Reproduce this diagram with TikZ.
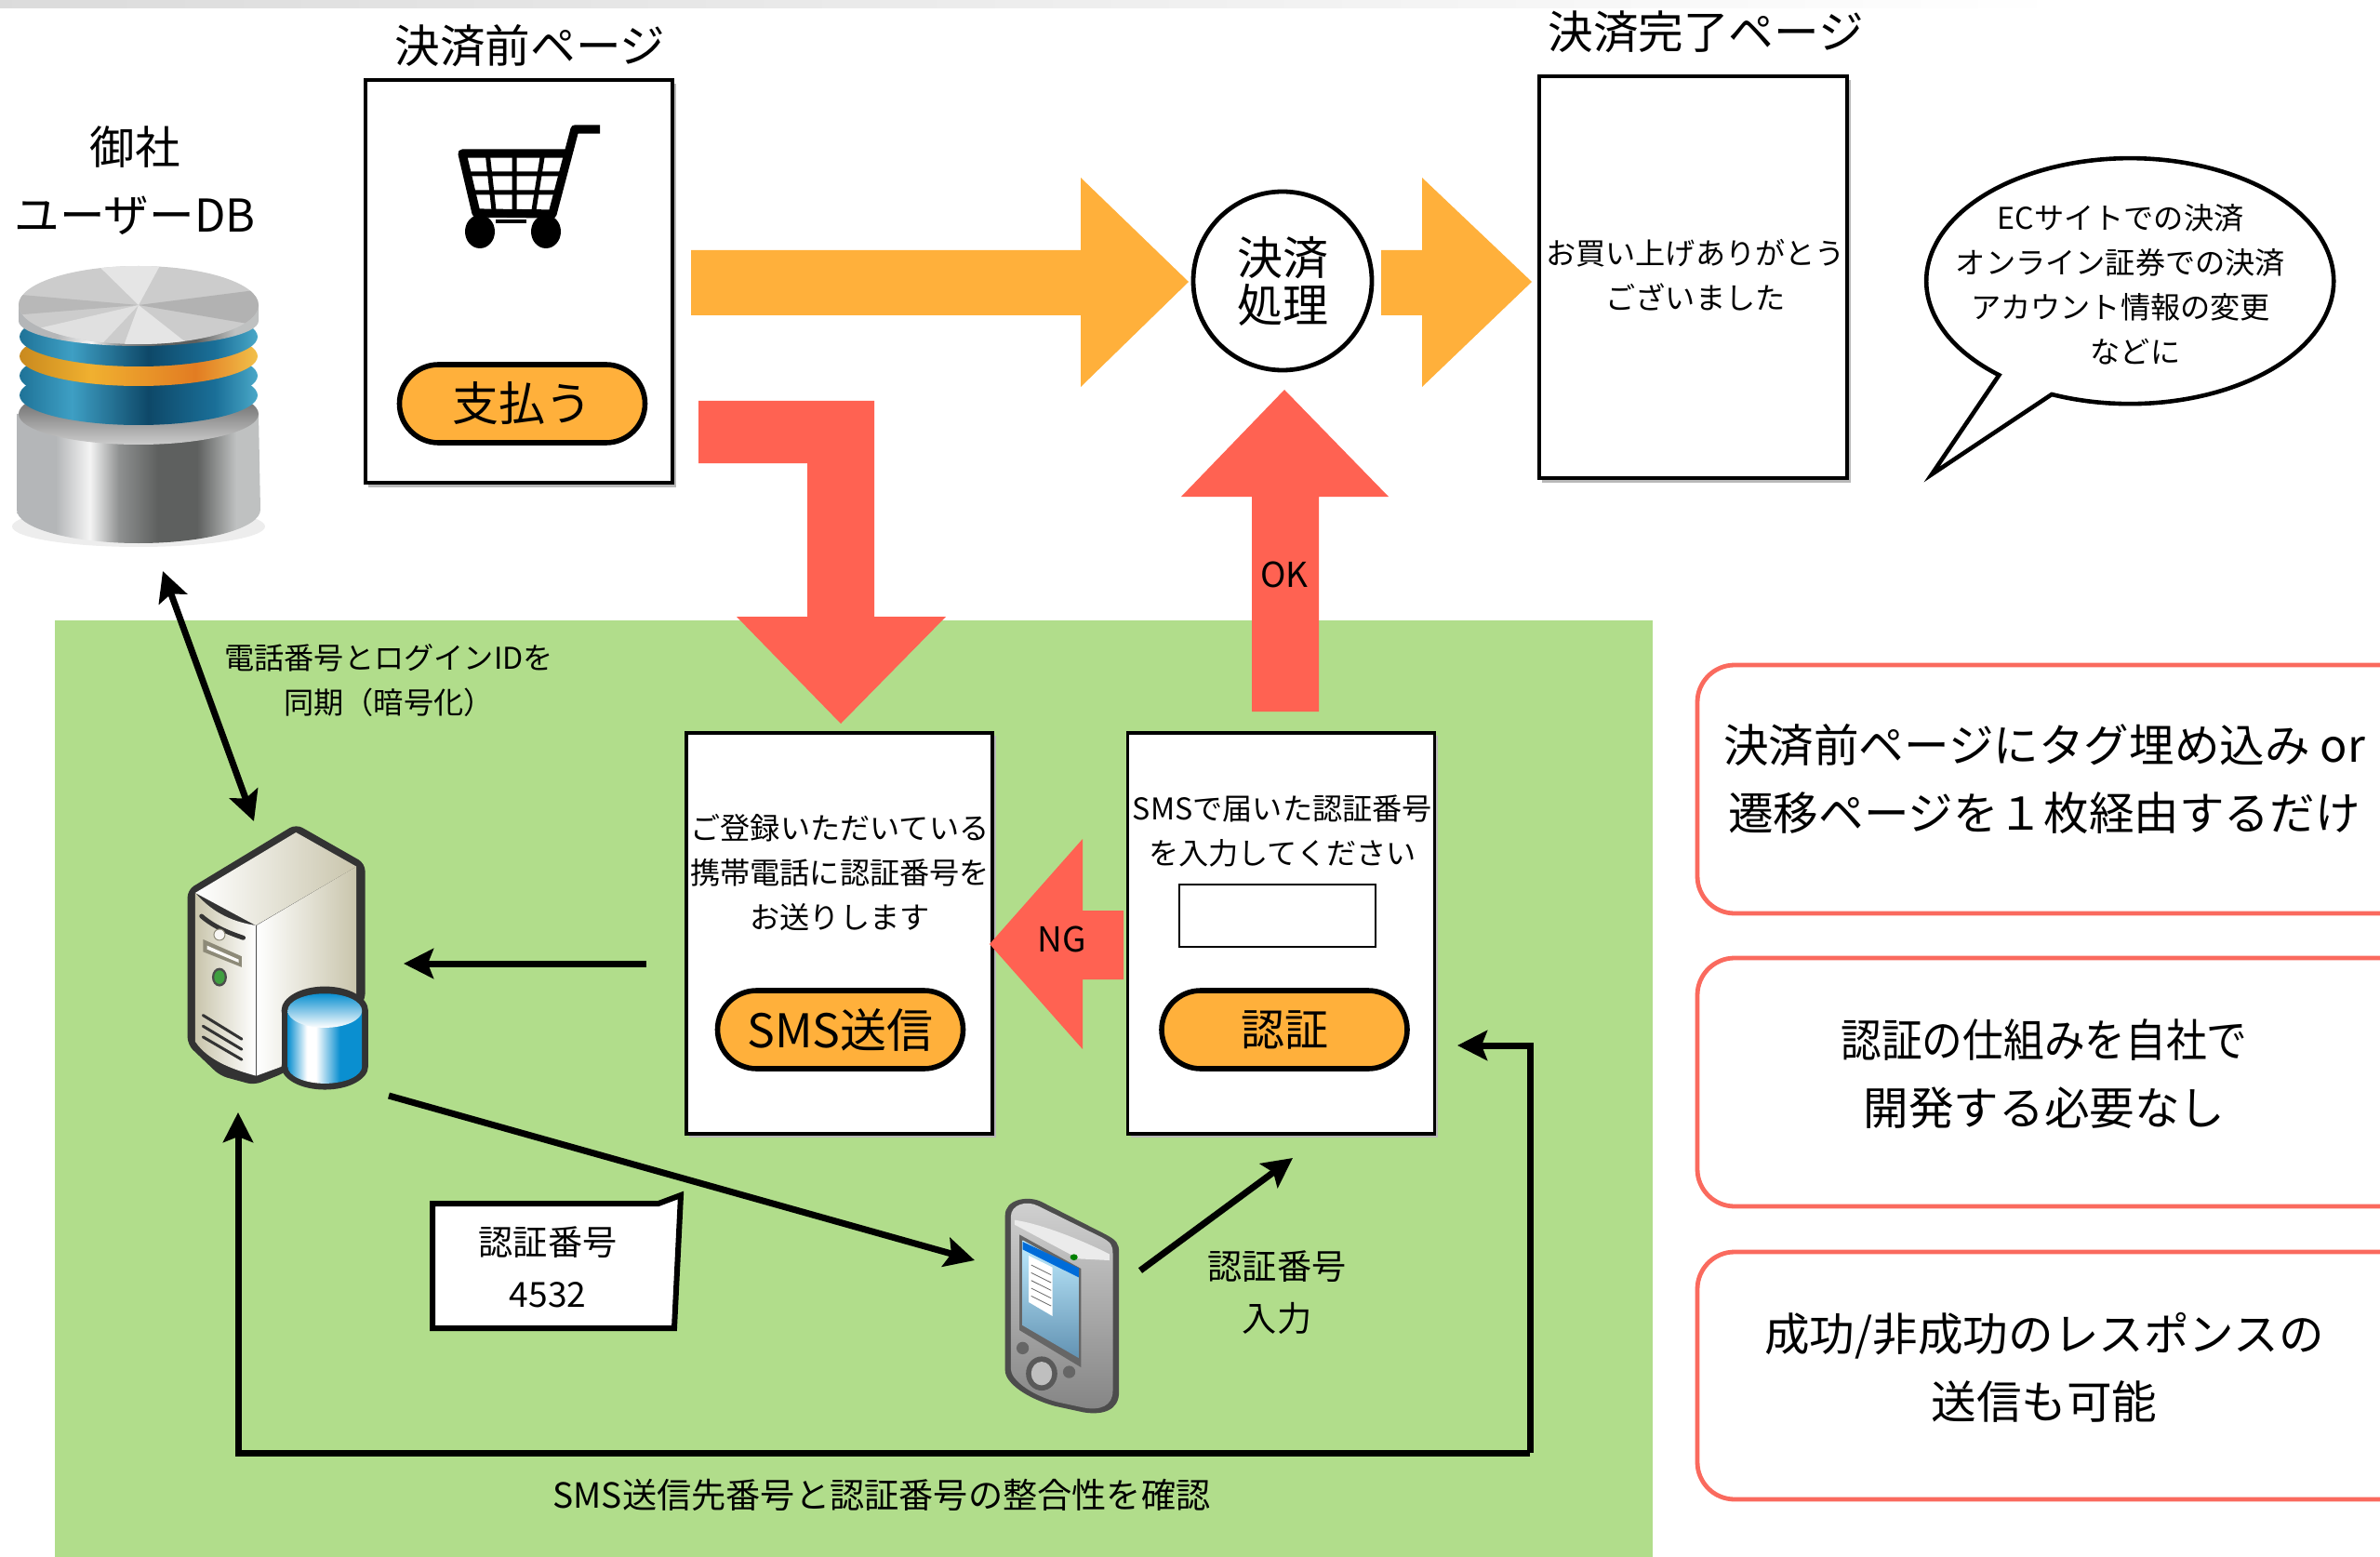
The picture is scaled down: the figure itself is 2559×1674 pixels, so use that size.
\documentclass[tikz,border=0pt]{standalone}
\usepackage{fontspec}
\setmainfont{Noto Sans CJK JP}
\usetikzlibrary{arrows.meta,calc}
\definecolor{orng}{HTML}{FFB03B}
\definecolor{redd}{HTML}{FF6252}
\definecolor{grn}{HTML}{B1DD8B}
\definecolor{pnl}{HTML}{FA6A5E}
\definecolor{cylb}{HTML}{0A8FD0}
\definecolor{srvd}{HTML}{333333}
\definecolor{srvl}{HTML}{C9C5AC}
\definecolor{mA}{HTML}{B4B6B8}
\definecolor{mB}{HTML}{F4F4F4}
\definecolor{mC}{HTML}{8E9090}
\definecolor{mD}{HTML}{5E605F}
\definecolor{mE}{HTML}{BFC1C1}
\definecolor{dA}{HTML}{1F7398}
\definecolor{dB}{HTML}{3E9FC4}
\definecolor{dC}{HTML}{0E4868}
\definecolor{dD}{HTML}{1A6F98}
\definecolor{dE}{HTML}{4AA8C8}
\definecolor{oA}{HTML}{C98A1E}
\definecolor{oB}{HTML}{F0B030}
\definecolor{oC}{HTML}{E27C22}
\definecolor{oD}{HTML}{F2C04A}
\pgfdeclarehorizontalshading{metal}{100bp}{color(0bp)=(mA);color(25bp)=(mA);color(33bp)=(mA);color(40bp)=(mB);color(46bp)=(mC);color(54bp)=(mD);color(62bp)=(mD);color(70bp)=(mE);color(75bp)=(mE);color(100bp)=(mE)}
\pgfdeclarehorizontalshading{bluedisc}{100bp}{color(0bp)=(dA);color(25bp)=(dA);color(36bp)=(dB);color(52bp)=(dC);color(66bp)=(dD);color(75bp)=(dE);color(100bp)=(dE)}
\pgfdeclarehorizontalshading{orgdisc}{100bp}{color(0bp)=(oA);color(25bp)=(oA);color(40bp)=(oB);color(62bp)=(oC);color(75bp)=(oD);color(100bp)=(oD)}
\pgfdeclarehorizontalshading{cylblue}{100bp}{color(0bp)=(cylb);color(25bp)=(cylb);color(38bp)=(white);color(44bp)=(white);color(60bp)=(cylb);color(75bp)=(cylb);color(100bp)=(cylb)}
\tikzset{
  x=0.5pt,y=-0.5pt,
  pagebox/.style={draw=black,line width=1.6pt,fill=white,inner sep=0pt},
  shadowbox/.style={fill=black!28},
  paybtn/.style={draw=black,line width=2.8pt,fill=orng,rounded corners=21pt,inner sep=0pt,minimum height=42pt,minimum width=132pt},
  panel/.style={draw=pnl,line width=2.4pt,fill=white,rounded corners=20pt},
  txt/.style={inner sep=0pt,align=center,text=black},
  ts/.style={txt,font=\fontsize{16.1}{24}\selectfont},
  tk/.style={txt,font=\fontsize{18.5}{24}\selectfont},
  tm/.style={txt,font=\fontsize{18.6}{28}\selectfont},
  tl/.style={txt,font=\fontsize{24.3}{36.5}\selectfont},
  conn/.style={draw=black,line width=3.5pt},
  tip/.style={-{Stealth[length=16pt,width=16pt,inset=3pt]}},
  bothtip/.style={{Stealth[length=16pt,width=16pt,inset=3pt]}-{Stealth[length=16pt,width=16pt,inset=3pt]}},
  orarrow/.style={fill=orng},
  rdarrow/.style={fill=redd},
}
\begin{document}
\begin{tikzpicture}
\useasboundingbox (0,0) rectangle (2559,1674);
\clip (0,0) rectangle (2559,1674);
\shade[left color=black!14,right color=white] (0,0) rectangle (2220,9);
\fill[grn] (59,667) rectangle (1777,1680);

% ---- database icon
\begin{scope}
\fill[black!7] (149,566) ellipse [x radius=136,y radius=22];
\shade[shading=metal] (18,445) -- (18,548) arc [start angle=180,end angle=360,x radius=131,y radius=-36] -- (278,445) -- cycle;
\begin{scope}
\clip (18,425) rectangle (280,500);
\shade[top color=black!70,bottom color=black!20] (149,445) ellipse [x radius=129,y radius=33];
\end{scope}
\shade[shading=bluedisc] (149,425) ellipse [x radius=128,y radius=32];
\shade[shading=bluedisc] (149,404) ellipse [x radius=128,y radius=32];
\shade[shading=orgdisc] (149,383) ellipse [x radius=128,y radius=32];
\shade[shading=bluedisc] (149,362) ellipse [x radius=128,y radius=32];
\shade[shading=metal] (20,328) -- (20,345) arc [start angle=180,end angle=360,x radius=129,y radius=-27] -- (278,328) -- cycle;
\fill[black!20] (149,328) ellipse [x radius=129,y radius=42];
\begin{scope}
\clip (149,328) ellipse [x radius=129,y radius=42];
\fill[black!30] (149,328) -- (290,352) -- (290,310) -- cycle;
\fill[black!10] (149,328) -- (100,280) -- (175,280) -- cycle;
\fill[black!10] (149,328) -- (130,380) -- (215,380) -- cycle;
\fill[black!28] (149,328) -- (0,315) -- (0,340) -- cycle;
\fill[black!12] (149,328) -- (20,358) -- (100,380) -- cycle;
\end{scope}
\end{scope}
\node[tl] (dbtitle) at (145,194) {御社\\ユーザーDB};
\node[tl] (p1title) at (570,49) {決済前ページ};
\node[tl] (p2title) at (1834,34) {決済完了ページ};

% ---- page 1
\fill[shadowbox] (396,90) rectangle (727,524);
\node[pagebox,minimum width=165pt,minimum height=216.5pt] (page1) at (558,302.5) {};
\begin{scope}
\draw[line width=2.5pt] (501,187) -- (603,187) (507,207) -- (599,207)
  (524,163) -- (531,226) (553,163) -- (553,226) (584,163) -- (574,226);
\draw[line width=4.6pt,line join=round] (645,139) -- (618,139) -- (594,230) -- (512,229) -- (497,165) -- (610,165);
\fill (516,249) ellipse [x radius=16,y radius=18];
\fill (587,249) ellipse [x radius=16,y radius=18];
\draw[line width=2.2pt] (533,238) -- (566,238);
\end{scope}
\node[paybtn] (pay) at (561.5,434) {\fontsize{25}{26}\selectfont 支払う};

% ---- block arrows
\fill[orarrow] (743,269) -- (1162,269) -- (1162,191) -- (1278,303) -- (1162,416) -- (1162,339) -- (743,339) -- cycle;
\fill[orarrow] (1485,269) -- (1529,269) -- (1529,191) -- (1647,303) -- (1529,416) -- (1529,339) -- (1485,339) -- cycle;
\fill[rdarrow] (751,431) -- (940,431) -- (940,663) -- (1017,663) -- (904,778) -- (792,663) -- (868,663) -- (868,498) -- (751,498) -- cycle;
\fill[rdarrow] (1346,765) -- (1346,534) -- (1270,534) -- (1381,419) -- (1493,534) -- (1418,534) -- (1418,765) -- cycle;

% ---- settlement
\node[draw=black,line width=2.4pt,fill=white,circle,minimum size=96pt,inner sep=0pt,align=center,font=\fontsize{24.5}{25.5}\selectfont] (proc) at (1379,302) {決済\\処理};

% ---- page 2
\fill[shadowbox] (1658,86) rectangle (1990,519);
\node[pagebox,minimum width=165.5pt,minimum height=216pt] (page2) at (1820.5,298) {};
\node[ts] (thanks) at (1823,296) {お買い上げありがとう\\ございました};

% ---- bubble
\draw[draw=black,line width=2.3pt,fill=white,line join=miter] (2206,424)
  arc [start angle=112.6,end angle=-230,x radius=219,y radius=132]
  -- (2077,510) -- cycle;
\node[ts] (bubtext) at (2280,306) {ECサイトでの決済\\オンライン証券での決済\\アカウント情報の変更\\\hspace*{16pt}などに};

% ---- right panels
\draw[panel] (1825,715) rectangle (2620,982);
\draw[panel] (1825,1030) rectangle (2620,1297);
\draw[panel] (1825,1346) rectangle (2620,1612);
\node[tl] (merit1) at (2198,838) {決済前ページにタグ埋め込み or\\遷移ページを１枚経由するだけ};
\node[tl] (merit2) at (2198,1155) {\scalebox{0.9}[1]{認証の仕組みを自社で}\\開発する必要なし};
\node[tl] (merit3) at (2198,1470) {成功/非成功のレスポンスの\\送信も可能};

% ---- page 3
\fill[shadowbox] (741,791) rectangle (1071,1223);
\node[pagebox,minimum width=164.5pt,minimum height=215.5pt] (page3) at (902.5,1003.5) {};
\node[ts] (sendtext) at (903,938) {ご登録いただいている\\携帯電話に認証番号を\\お送りします};
\node[paybtn] (smsbtn) at (903.5,1107) {\fontsize{25}{26}\selectfont SMS送信};

% ---- page 4
\fill[shadowbox] (1216,791) rectangle (1546,1223);
\node[pagebox,minimum width=165pt,minimum height=215.5pt] (page4) at (1377.5,1003.5) {};
\node[ts] (inputtext) at (1379,894) {SMSで届いた認証番号\\を入力してください};
\node[draw=black,line width=0.9pt,fill=white,minimum width=105.5pt,minimum height=33.5pt,inner sep=0pt] (inputbox) at (1373.5,984.5) {};
\node[paybtn] (authbtn) at (1381,1107) {\fontsize{23.5}{26}\selectfont 認証};

% ---- NG arrow and OK label
\fill[rdarrow] (1208,979) -- (1164,979) -- (1164,902) -- (1064,1015) -- (1164,1128) -- (1164,1053) -- (1208,1053) -- cycle;
\node[tk] (nglab) at (1142,1010) {NG};
\node[tk] (oklab) at (1381,618) {OK};

% ---- server icon
\node[inner sep=0pt,minimum width=98pt,minimum height=143pt] (server) at (298.5,1029) {};
\begin{scope}[shift={(150,860)},x=0.1666pt,y=-0.1666pt]
\fill[srvd,rounded corners=4pt] (155,290) -- (505,78) -- (728,205) -- (728,650) -- (470,880) -- (370,920) -- (260,890) -- (155,790) -- cycle;
\shade[left color=white,right color=srvl] (180,300) -- (505,105) -- (700,215) -- (375,405) -- cycle;
\shade[left color=srvl,right color=white] (180,300) .. controls (240,370) and (310,395) .. (375,405) -- (375,890) .. controls (300,870) and (220,840) .. (180,780) -- cycle;
\shade[left color=white,right color=srvl] (378,405) -- (700,215) -- (700,640) -- (460,860) -- (378,890) -- cycle;
\draw[srvd,line width=2.4pt,line cap=round] (200,375) .. controls (240,410) and (290,430) .. (335,445);
\draw[fill=white!85!srvl,draw=srvl!70!black,line width=0.5pt] (258,435) circle [radius=18];
\fill[srvl!70!black] (205,450) -- (330,505) -- (330,540) -- (205,490) -- cycle;
\fill[white!90!srvl] (218,470) -- (320,515) -- (320,525) -- (218,482) -- cycle;
\fill[black!70] (258,572) ellipse [x radius=24,y radius=30];
\fill[green!50!black!75] (258,572) ellipse [x radius=17,y radius=22];
\draw[srvd,line width=1.5pt,line cap=round] (205,695) -- (330,772) (205,730) -- (330,805) (205,765) -- (330,838);
\fill[srvd] (598,680) ellipse [x radius=140,y radius=78];
\fill[srvd] (458,680) rectangle (738,860);
\fill[srvd] (598,860) ellipse [x radius=140,y radius=75];
\shade[shading=cylblue] (478,680) -- (478,860) arc [start angle=180,end angle=360,x radius=120,y radius=-55] -- (718,680) -- cycle;
\shade[top color=cylb,bottom color=white] (598,680) ellipse [x radius=120,y radius=55];
\end{scope}

% ---- phone icon
\node[inner sep=0pt,minimum width=61pt,minimum height=115pt] (phone) at (1141,1404) {};
\begin{scope}[shift={(420,1240)},x=0.2551pt,y=-0.1667pt]
\fill[black!70] (1295,200) .. controls (1295,150) and (1340,135) .. (1370,155) -- (1505,260) .. controls (1530,280) and (1535,290) .. (1535,320) -- (1535,770) .. controls (1535,830) and (1500,845) .. (1460,835) -- (1400,815) .. controls (1340,790) and (1295,740) .. (1295,700) -- cycle;
\shade[top color=black!18,bottom color=black!48] (1307,205) .. controls (1307,165) and (1340,150) .. (1365,170) -- (1500,272) .. controls (1518,288) and (1522,295) .. (1522,325) -- (1522,765) .. controls (1522,815) and (1495,830) .. (1460,820) -- (1405,802) .. controls (1350,780) and (1307,730) .. (1307,695) -- cycle;
\fill[black!8] (1315,215) .. controls (1380,230) and (1470,290) .. (1515,325) -- (1515,345) -- (1450,340) -- (1315,230) -- cycle;
\fill[black!60] (1325,262) -- (1455,372) -- (1455,690) -- (1325,570) -- cycle;
\shade[top color=blue!30!cyan!25!white,bottom color=blue!40!cyan!45!white!70!black] (1332,280) -- (1450,380) -- (1450,660) -- (1332,555) -- cycle;
\fill[blue!50!cyan!85!black] (1332,285) -- (1450,370) -- (1450,400) -- (1332,310) -- cycle;
\fill[white] (1345,330) -- (1395,368) -- (1395,525) -- (1345,480) -- cycle;
\draw[black!60,line width=0.4pt] (1350,360) -- (1392,392) (1350,385) -- (1392,417) (1350,410) -- (1392,442) (1350,435) -- (1392,467) (1350,460) -- (1392,492);
\fill[green!50!black] (1440,335) ellipse [x radius=8,y radius=10];
\fill[black!65] (1372,710) ellipse [x radius=33,y radius=55];
\fill[black!25] (1372,710) ellipse [x radius=22,y radius=38];
\fill[black!60] (1332,628) ellipse [x radius=13,y radius=20];
\fill[black!60] (1430,705) ellipse [x radius=13,y radius=20];
\end{scope}

% ---- callout
\draw[draw=black,line width=3pt,fill=white,line join=miter] (465,1294) -- (708,1294) -- (732,1285) -- (725,1428) -- (465,1428) -- cycle;
\node[tm] (codetext) at (589,1362) {認証番号\\4532};
\node[tm] (inputlab) at (1373,1390) {認証番号\\入力};
\node[ts] (synclab) at (418,732) {電話番号とログインIDを\\同期（暗号化）};
\node[tm] (checklab) at (948,1607) {SMS送信先番号と認証番号の整合性を確認};

% ---- connectors
\coordinate (dbend) at (175,614);
\coordinate (srvtop) at (273,883);
\coordinate (sendfrom) at (695,1036);
\coordinate (srvright) at (434,1036);
\coordinate (srvlow) at (418,1178);
\coordinate (phoneleft) at (1048,1355);
\coordinate (phoneright) at (1226,1366);
\coordinate (authlow) at (1390,1245);
\coordinate (authright) at (1567,1124);
\coordinate (cornertr) at (1645,1124);
\coordinate (cornerbr) at (1645,1562);
\coordinate (cornerbl) at (256,1562);
\coordinate (srvbottom) at (256,1196);
\draw[conn,bothtip] (dbend) -- (srvtop);
\draw[conn,tip] (sendfrom) -- (srvright);
\draw[conn,tip] (srvlow) -- (phoneleft);
\draw[conn,tip] (phoneright) -- (authlow);
\draw[conn,tip] (cornerbr) -- (cornertr) -- (authright);
\draw[conn,tip] (cornerbr) -- (cornerbl) -- (srvbottom);
\end{tikzpicture}
\end{document}
